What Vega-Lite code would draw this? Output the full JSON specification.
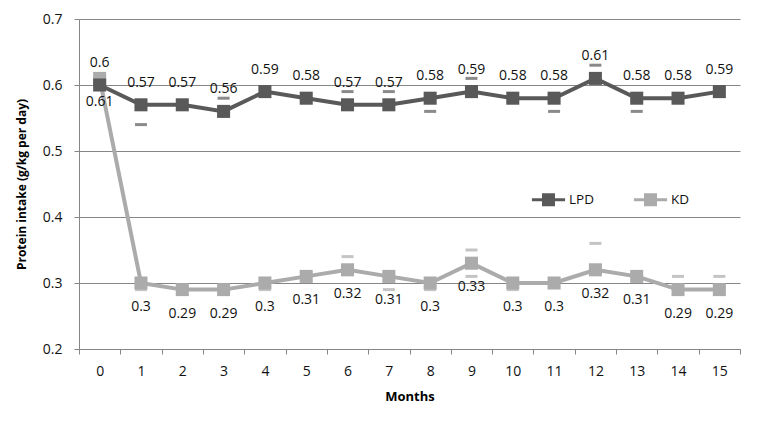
{
  "$schema": "https://vega.github.io/schema/vega-lite/v6.json",
  "width": 661,
  "height": 330,
  "autosize": "none",
  "padding": {"left": 79, "top": 19, "right": 30, "bottom": 78},
  "background": "white",
  "config": {
    "view": {"stroke": null},
    "font": "Open Sans",
    "axis": {"labelFont": "Open Sans", "titleFont": "Open Sans", "labelColor": "#111111", "titleColor": "#000000"}
  },
  "datasets": {
    "main": [
      {"month": "0", "series": "LPD", "value": 0.6},
      {"month": "1", "series": "LPD", "value": 0.57},
      {"month": "2", "series": "LPD", "value": 0.57},
      {"month": "3", "series": "LPD", "value": 0.56},
      {"month": "4", "series": "LPD", "value": 0.59},
      {"month": "5", "series": "LPD", "value": 0.58},
      {"month": "6", "series": "LPD", "value": 0.57},
      {"month": "7", "series": "LPD", "value": 0.57},
      {"month": "8", "series": "LPD", "value": 0.58},
      {"month": "9", "series": "LPD", "value": 0.59},
      {"month": "10", "series": "LPD", "value": 0.58},
      {"month": "11", "series": "LPD", "value": 0.58},
      {"month": "12", "series": "LPD", "value": 0.61},
      {"month": "13", "series": "LPD", "value": 0.58},
      {"month": "14", "series": "LPD", "value": 0.58},
      {"month": "15", "series": "LPD", "value": 0.59},
      {"month": "0", "series": "KD", "value": 0.61},
      {"month": "1", "series": "KD", "value": 0.3},
      {"month": "2", "series": "KD", "value": 0.29},
      {"month": "3", "series": "KD", "value": 0.29},
      {"month": "4", "series": "KD", "value": 0.3},
      {"month": "5", "series": "KD", "value": 0.31},
      {"month": "6", "series": "KD", "value": 0.32},
      {"month": "7", "series": "KD", "value": 0.31},
      {"month": "8", "series": "KD", "value": 0.3},
      {"month": "9", "series": "KD", "value": 0.33},
      {"month": "10", "series": "KD", "value": 0.3},
      {"month": "11", "series": "KD", "value": 0.3},
      {"month": "12", "series": "KD", "value": 0.32},
      {"month": "13", "series": "KD", "value": 0.31},
      {"month": "14", "series": "KD", "value": 0.29},
      {"month": "15", "series": "KD", "value": 0.29}
    ],
    "caps": [
      {"month": "0", "series": "LPD", "cap": 0.61},
      {"month": "1", "series": "LPD", "cap": 0.54},
      {"month": "3", "series": "LPD", "cap": 0.58},
      {"month": "6", "series": "LPD", "cap": 0.59},
      {"month": "7", "series": "LPD", "cap": 0.59},
      {"month": "8", "series": "LPD", "cap": 0.56},
      {"month": "9", "series": "LPD", "cap": 0.61},
      {"month": "11", "series": "LPD", "cap": 0.56},
      {"month": "12", "series": "LPD", "cap": 0.63},
      {"month": "13", "series": "LPD", "cap": 0.56},
      {"month": "1", "series": "KD", "cap": 0.29},
      {"month": "4", "series": "KD", "cap": 0.29},
      {"month": "6", "series": "KD", "cap": 0.34},
      {"month": "7", "series": "KD", "cap": 0.29},
      {"month": "8", "series": "KD", "cap": 0.29},
      {"month": "9", "series": "KD", "cap": 0.35},
      {"month": "9", "series": "KD", "cap": 0.31},
      {"month": "10", "series": "KD", "cap": 0.29},
      {"month": "12", "series": "KD", "cap": 0.36},
      {"month": "14", "series": "KD", "cap": 0.31},
      {"month": "15", "series": "KD", "cap": 0.31}
    ]
  },
  "encoding": {
    "x": {
      "field": "month", "type": "ordinal",
      "sort": ["0","1","2","3","4","5","6","7","8","9","10","11","12","13","14","15"],
      "scale": {"type": "band", "paddingInner": 0, "paddingOuter": 0},
      "axis": {
        "title": "Months", "titleFontSize": 13, "titleFontWeight": "bold", "titlePadding": 12,
        "labelAngle": 0, "labelFontSize": 14, "labelPadding": 10,
        "tickBand": "extent", "tickSize": 5, "tickColor": "#868686", "domainColor": "#868686", "grid": false
      }
    },
    "y": {
      "type": "quantitative",
      "scale": {"domain": [0.2, 0.7], "nice": false, "zero": false},
      "axis": {
        "title": "Protein intake (g/kg per day)", "titleFontSize": 12, "titleFontWeight": "bold", "titlePadding": 14,
        "values": [0.2, 0.3, 0.4, 0.5, 0.6, 0.7], "format": ".1f",
        "labelFontSize": 14, "labelPadding": 12, "tickSize": 5,
        "tickColor": "#868686", "domainColor": "#868686",
        "grid": true, "gridColor": "#868686", "gridWidth": 1
      }
    },
    "color": {
      "field": "series", "type": "nominal",
      "scale": {"domain": ["LPD", "KD"], "range": ["#595959", "#ABABAB"]},
      "legend": {
        "title": null, "orient": "none", "direction": "horizontal",
        "legendX": 451, "legendY": 162,
        "symbolType": "M-1,0H1M-0.3,-0.3H0.3V0.3H-0.3Z",
        "symbolSize": 1100, "symbolStrokeWidth": 3,
        "labelFontSize": 13.5, "labelColor": "#111111", "labelFont": "Open Sans",
        "columnPadding": 33, "labelOffset": 2,
        "encode": {"symbols": {"update": {"fill": {"scale": "color", "field": "value"}, "stroke": {"scale": "color", "field": "value"}, "opacity": {"value": 1}}}}
      }
    }
  },
  "layer": [
    {
      "data": {"name": "caps"},
      "mark": {"type": "tick", "size": 12, "thickness": 3},
      "encoding": {"y": {"field": "cap"}}
    },
    {
      "data": {"name": "main"},
      "transform": [{"filter": "datum.series === 'KD'"}],
      "layer": [
        {"mark": {"type": "line", "strokeWidth": 4}},
        {"mark": {"type": "square", "size": 170, "opacity": 1}},
        {"mark": {"type": "text", "dy": 24, "fontSize": 14},
          "encoding": {"text": {"field": "value", "type": "quantitative"}, "color": {"value": "#111111"}}}
      ],
      "encoding": {"y": {"field": "value"}}
    },
    {
      "data": {"name": "main"},
      "transform": [{"filter": "datum.series === 'LPD'"}],
      "layer": [
        {"mark": {"type": "line", "strokeWidth": 4}},
        {"mark": {"type": "square", "size": 170, "opacity": 1}},
        {"mark": {"type": "text", "dy": -22, "fontSize": 14},
          "encoding": {"text": {"field": "value", "type": "quantitative"}, "color": {"value": "#111111"}}}
      ],
      "encoding": {"y": {"field": "value"}}
    }
  ]
}
